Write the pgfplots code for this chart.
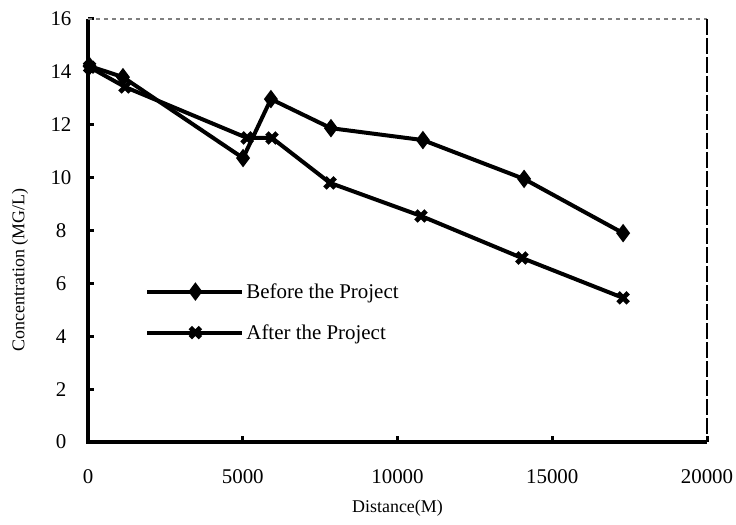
\documentclass[border=0pt]{standalone}
\usepackage{fontspec}
\setmainfont{Liberation Serif}
\usepackage{pgfplots}
\usepackage{pgfplotstable}
\pgfplotsset{compat=1.18}

% Concentration along the river, before and after the project
\pgfplotstableread{
x y
50 14.22
1130 13.80
5010 10.74
5910 12.97
7850 11.87
10820 11.42
14090 9.95
17290 7.90
}\before
\pgfplotstableread{
x y
50 14.18
1195 13.43
5140 11.50
5945 11.50
7820 9.80
10760 8.55
14020 6.96
17290 5.45
}\after

\begin{document}
\begin{tikzpicture}
\begin{axis}[
  name=ax,
  scale only axis, width=309.5bp, height=211.5bp,
  xmin=0, xmax=20000, ymin=0, ymax=16,
  xtick={0,5000,10000,15000,20000},
  ytick={0,2,...,16},
  scaled x ticks=false,
  xticklabel style={/pgf/number format/1000 sep={}},
  /pgf/number format/assume math mode=true,
  axis line style={draw=none},
  tick align=inside, tick pos=left,
  major tick length=3bp,
  every tick/.style={black, line width=1.5bp},
  tick label style={font=\fontsize{10.5}{12}\selectfont},
  xticklabel style={anchor=center, yshift=-17.5bp},
  yticklabel style={anchor=center, xshift=-13.5bp},
  xlabel={Distance(M)},
  ylabel={Concentration (MG/L)},
  label style={font=\fontsize{9}{11}\selectfont},
  xlabel style={at={(axis description cs:0.5,0)}, anchor=center, yshift=-33bp},
  ylabel style={at={(axis description cs:0,0.407)}, anchor=center, rotate=0, yshift=34bp},
  clip=false,
  legend image code/.code={%
    \draw[mark repeat=2, mark phase=2, #1]
      plot coordinates {(0bp,0bp) (24bp,0bp) (47.5bp,0bp)};},
  legend style={draw=none, fill=none, inner sep=0pt,
    at={(rel axis cs:0,0)}, anchor=south west, xshift=28.5bp, yshift=51bp,
    row sep=13.5bp, column sep=1bp,
    font=\fontsize{10.5}{12}\selectfont,
    nodes={inner sep=0pt, text height=7bp, text depth=0pt, anchor=west}},
  legend cell align=left,
]
\addplot[black, line width=2bp, mark=diamond*, mark size=3bp,
  mark options={solid}] table {\before};
\addlegendentry{Before the Project}
\addplot[black, line width=2bp, mark=x, mark size=3.6bp,
  mark options={solid, line width=2.4bp}] table {\after};
\addlegendentry{After the Project}

% frame: heavy left and bottom edges, light broken top and right edges
\draw[black, line width=2bp] (rel axis cs:0,1) -- (rel axis cs:0,0) -- (rel axis cs:1,0);
\draw[gray, line width=0.7bp, dash pattern=on 2bp off 2bp] (rel axis cs:0,1) -- (rel axis cs:1,1);
\draw[black, line width=1.4bp, dash pattern=on 8bp off 1.5bp] (rel axis cs:1,1) -- (rel axis cs:1,0);
\end{axis}
\pgfresetboundingbox
\path ([xshift=-44bp,yshift=-41.5bp]ax.south west) rectangle ([xshift=14.5bp,yshift=9.5bp]ax.north east);
\end{tikzpicture}
\end{document}
